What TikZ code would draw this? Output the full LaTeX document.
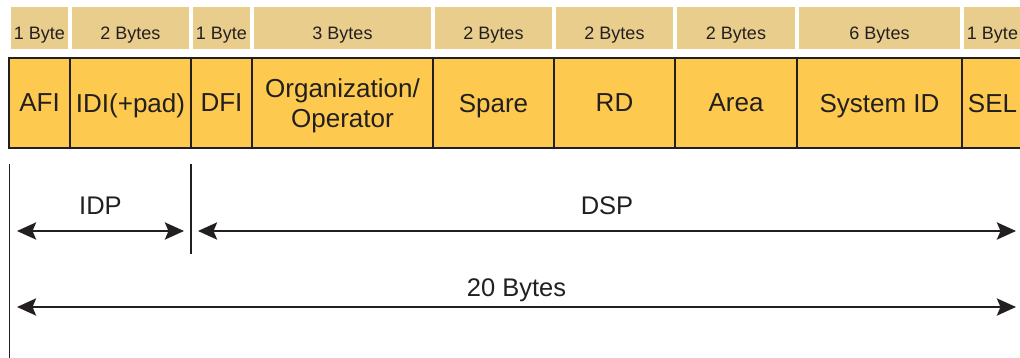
\documentclass[tikz,border=0pt]{standalone}
\usepackage{fontspec}
\setmainfont{Liberation Sans}
\usepackage{xcolor}
\usetikzlibrary{arrows.meta}

\definecolor{fieldfill}{HTML}{FDC94F}
\definecolor{bytefill}{HTML}{E9CD8D}
\definecolor{ink}{HTML}{231F20}

\begin{document}
\begin{tikzpicture}[x=1pt, y=-1pt,
        field/.style={draw=ink, line width=2.2pt, fill=fieldfill, text=ink,
                      inner sep=0pt, minimum height=90pt, text depth=0pt,
                      align=center, font=\fontsize{26}{30}\selectfont},
        bytecell/.style={fill=bytefill, text=ink, inner sep=0pt,
                         minimum height=42pt, text height=24pt, text depth=0pt,
                         font=\fontsize{18}{20}\selectfont},
        dimline/.style={draw=ink, line width=2.8pt,
                        {Stealth[length=19pt, width=17pt, inset=3.5pt]}-{Stealth[length=19pt, width=17pt, inset=3.5pt]}},
        tickline/.style={draw=ink, line width=1.2pt},
        dimlabel/.style={text=ink, inner sep=0pt, text depth=0pt,
                         font=\fontsize{25.5}{30}\selectfont}
    ]

    \useasboundingbox (0,0) rectangle (1020,358);

    \foreach \l/\r/\name/\txt/\nbytes in {
            9/70/afi/AFI/1 Byte,
            70/191/idi/IDI(+pad)/2 Bytes,
            191/252/dfi/DFI/1 Byte,
            252/433/org/{Organization/\\Operator}/3 Bytes,
            433/554/spare/Spare/2 Bytes,
            554/675/rd/RD/2 Bytes,
            675/797/area/Area/2 Bytes,
            797/962/sysid/System ID/6 Bytes,
            962/1023/sel/SEL/1 Byte}
    {
        \node[field, minimum width={(\r-\l)*1pt}] (\name) at ({(\l+\r)/2},103) {\txt};
        \node[bytecell, minimum width={(\r-\l-4)*1pt}] (\name-bytes) at ({(\l+\r)/2},28) {\nbytes};
    }

    \coordinate (edgeTop) at (9.5,164);
    \coordinate (edgeBot) at (9.5,358);
    \coordinate (splitTop) at (191,164);
    \coordinate (splitBot) at (191,254);
    \coordinate (idpL) at (17,231);
    \coordinate (idpR) at (184,231);
    \coordinate (dspL) at (198,231);
    \coordinate (dspR) at (1016,231);
    \coordinate (totL) at (17,307);
    \coordinate (totR) at (1016,307);

    \draw[tickline] (edgeTop) -- (edgeBot);
    \draw[tickline] (splitTop) -- (splitBot);

    \draw[dimline] (idpL) -- node[dimlabel, above=15pt] {IDP} (idpR);
    \draw[dimline] (dspL) -- node[dimlabel, above=15pt] {DSP} (dspR);
    \draw[dimline] (totL) -- node[dimlabel, above=9pt] {20 Bytes} (totR);
\end{tikzpicture}
\end{document}
